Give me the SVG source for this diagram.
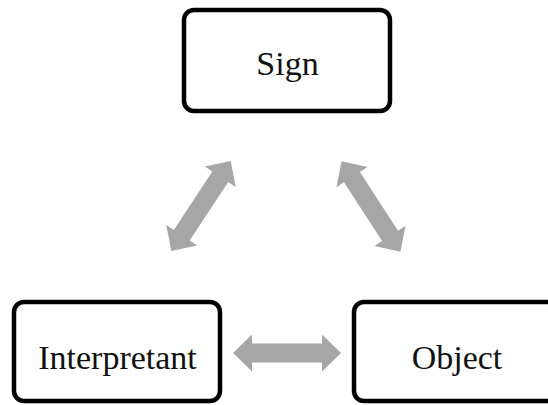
<svg xmlns="http://www.w3.org/2000/svg" xmlns:xlink="http://www.w3.org/1999/xlink" width="548" height="405" viewBox="0 0 548 405">
  <style>
    .box { fill: #ffffff; stroke: #000000; stroke-width: 4.5; }
    .label { font-family: "Liberation Serif", "Times New Roman", serif; font-size: 34px; fill: #111111; text-anchor: middle; }
    .arrow { fill: #a6a6a6; }
  </style>
  <defs>
    <path id="dblarrow" d="M -54 0 L -35 -18.5 L -35 -9.5 L 35 -9.5 L 35 -18.5 L 54 0 L 35 18.5 L 35 9.5 L -35 9.5 L -35 18.5 Z"/>
  </defs>
  <rect width="548" height="405" fill="#ffffff"/>
  <g id="connectors">
    <use xlink:href="#dblarrow" href="#dblarrow" class="arrow" transform="translate(201 206) rotate(-56.6)"/>
    <use xlink:href="#dblarrow" href="#dblarrow" class="arrow" transform="translate(371 206.5) rotate(57)"/>
    <use xlink:href="#dblarrow" href="#dblarrow" class="arrow" transform="translate(287 353)"/>
  </g>
  <g id="sign">
    <rect class="box" x="184" y="10" width="206" height="101" rx="10"/>
    <text class="label" x="287.5" y="74.5">Sign</text>
  </g>
  <g id="interpretant">
    <rect class="box" x="14" y="302" width="206" height="99" rx="10"/>
    <text class="label" x="117.5" y="369">Interpretant</text>
  </g>
  <g id="object">
    <rect class="box" x="354" y="302" width="206" height="99" rx="10"/>
    <text class="label" x="457" y="369">Object</text>
  </g>
</svg>
